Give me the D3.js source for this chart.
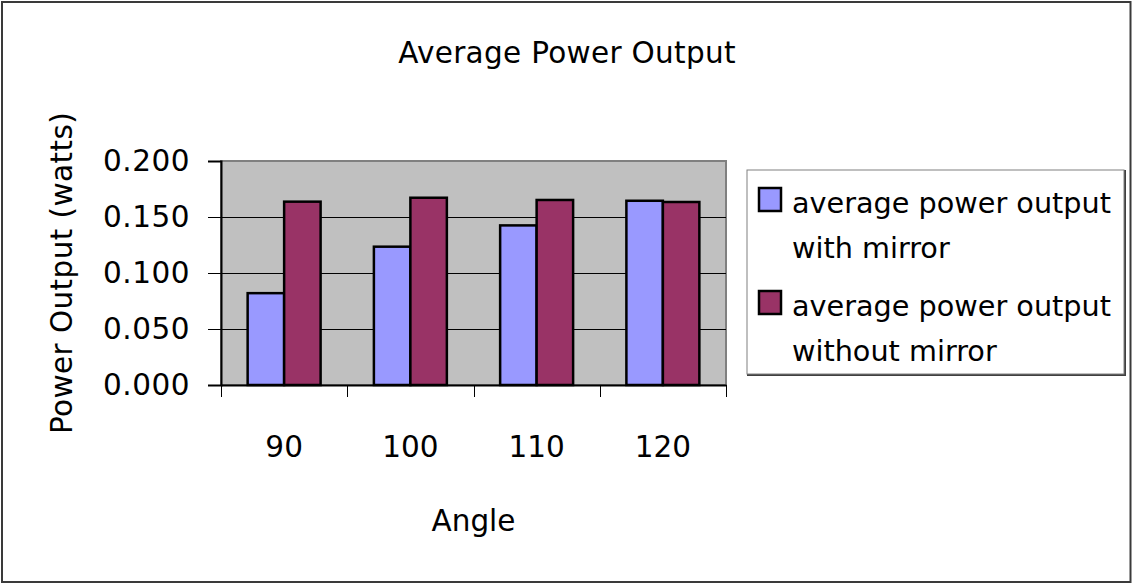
<!DOCTYPE html>
<html>
<head>
<meta charset="utf-8">
<script src="https://cdn.jsdelivr.net/npm/d3@7"></script>
<style>
  html, body { margin: 0; padding: 0; background: #fff; }
  svg { display: block; }
  text { font-family: "DejaVu Sans", sans-serif; fill: #000; }
</style>
</head>
<body>
<svg id="chart" width="1133" height="584"></svg>
<script>
const categories = ["90", "100", "110", "120"];
const seriesNames = ["average power output with mirror", "average power output without mirror"];
const legendLines = [["average power output", "with mirror"], ["average power output", "without mirror"]];
const withMirror = [0.082, 0.1235, 0.1425, 0.1645];
const withoutMirror = [0.1637, 0.1672, 0.1652, 0.1634];
const yTicks = [0, 0.05, 0.1, 0.15, 0.2];
const colors = ["#9999FF", "#993366"];

const svg = d3.select("#chart");
const W = 1133, H = 584;
const plot = { left: 221, right: 726, top: 161, bottom: 385 };
const fs = 29.5;

// outer border
svg.append("rect").attr("x", 2).attr("y", 2).attr("width", W - 4.5).attr("height", H - 4)
  .attr("fill", "#fff").attr("stroke", "#3a3a3a").attr("stroke-width", 2);

// title
svg.append("text").attr("x", 567).attr("y", 63).attr("text-anchor", "middle")
  .attr("font-size", fs).attr("letter-spacing", 0.3).text("Average Power Output");

const x0 = d3.scaleBand().domain(categories).range([plot.left, plot.right]).padding(0);
const bw = x0.bandwidth();
const x1 = d3.scaleBand().domain([0, 1]).range([bw * 0.211, bw * 0.789]).padding(0);
const y = d3.scaleLinear().domain([0, 0.2]).range([plot.bottom, plot.top]);

// plot background
svg.append("rect").attr("x", plot.left).attr("y", plot.top)
  .attr("width", plot.right - plot.left).attr("height", plot.bottom - plot.top)
  .attr("fill", "#C0C0C0").attr("stroke", "#808080").attr("stroke-width", 2);

// gridlines
svg.append("g").selectAll("line").data(yTicks.filter(d => d > 0 && d < 0.2)).join("line")
  .attr("x1", plot.left).attr("x2", plot.right)
  .attr("y1", d => Math.round(y(d)) + 0.5).attr("y2", d => Math.round(y(d)) + 0.5)
  .attr("stroke", "#000").attr("stroke-width", 1);

// bars
const data = categories.map((c, i) => ({ c, vals: [withMirror[i], withoutMirror[i]] }));
const groups = svg.append("g").selectAll("g").data(data).join("g")
  .attr("transform", d => `translate(${x0(d.c)},0)`);
groups.selectAll("rect").data(d => d.vals.map((v, k) => ({ v, k }))).join("rect")
  .attr("x", d => x1(d.k)).attr("width", x1.bandwidth())
  .attr("y", d => y(d.v)).attr("height", d => y(0) - y(d.v))
  .attr("fill", d => colors[d.k]).attr("stroke", "#000").attr("stroke-width", 2.5);

// y axis
const yAxis = d3.axisLeft(y).tickValues(yTicks).tickSize(13).tickPadding(8)
  .tickFormat(d3.format(".3f"));
const gy = svg.append("g").attr("transform", `translate(${plot.left},0)`).call(yAxis);
gy.select(".domain").attr("stroke", "#000").attr("stroke-width", 2);
gy.selectAll(".tick line").attr("stroke", "#000");
gy.selectAll(".tick text").attr("font-size", fs).attr("font-family", "DejaVu Sans, sans-serif")
  .attr("fill", "#000").attr("dx", "-10").attr("letter-spacing", 0.5);

// x axis
const xAxis = d3.axisBottom(x0).tickSize(0).tickPadding(0);
const gx = svg.append("g").attr("transform", `translate(0,${plot.bottom})`).call(xAxis);
gx.select(".domain").attr("stroke", "#000").attr("stroke-width", 2);
gx.selectAll(".tick text").attr("font-size", fs).attr("font-family", "DejaVu Sans, sans-serif")
  .attr("fill", "#000").attr("y", 72).attr("dy", 0);
// category boundary ticks
const bounds = categories.map(c => x0(c)).concat([plot.right]);
svg.append("g").selectAll("line").data(bounds).join("line")
  .attr("x1", d => Math.round(d) + 0.5).attr("x2", d => Math.round(d) + 0.5)
  .attr("y1", plot.bottom).attr("y2", plot.bottom + 12)
  .attr("stroke", "#000").attr("stroke-width", 1);

// axis titles
svg.append("text").attr("x", (plot.left + plot.right) / 2).attr("y", 531)
  .attr("text-anchor", "middle").attr("font-size", fs).text("Angle");
svg.append("text").attr("transform", `translate(72,${(plot.top + plot.bottom) / 2}) rotate(-90)`)
  .attr("text-anchor", "middle").attr("font-size", fs).attr("letter-spacing", 0.4).text("Power Output (watts)");

// legend
const lfs = 28.7;
const lg = svg.append("g");
lg.append("rect").attr("x", 748).attr("y", 171).attr("width", 377).attr("height", 204)
  .attr("fill", "none").attr("stroke", "#404040").attr("stroke-width", 2);
lg.append("rect").attr("x", 747).attr("y", 170).attr("width", 377).attr("height", 204)
  .attr("fill", "#fff").attr("stroke", "#808080").attr("stroke-width", 1);
const entries = lg.selectAll("g.entry").data(seriesNames).join("g").attr("class", "entry")
  .attr("transform", (d, i) => `translate(0,${i * 103})`);
entries.append("rect").attr("x", 759).attr("y", 188).attr("width", 22).attr("height", 23)
  .attr("fill", (d, i) => colors[i]).attr("stroke", "#000").attr("stroke-width", 2.5);
entries.each(function (d, i) {
  const g = d3.select(this);
  legendLines[i].forEach((ln, j) => {
    g.append("text").attr("x", 792).attr("y", 213 + j * 45).attr("font-size", lfs).text(ln);
  });
});
</script>
</body>
</html>
